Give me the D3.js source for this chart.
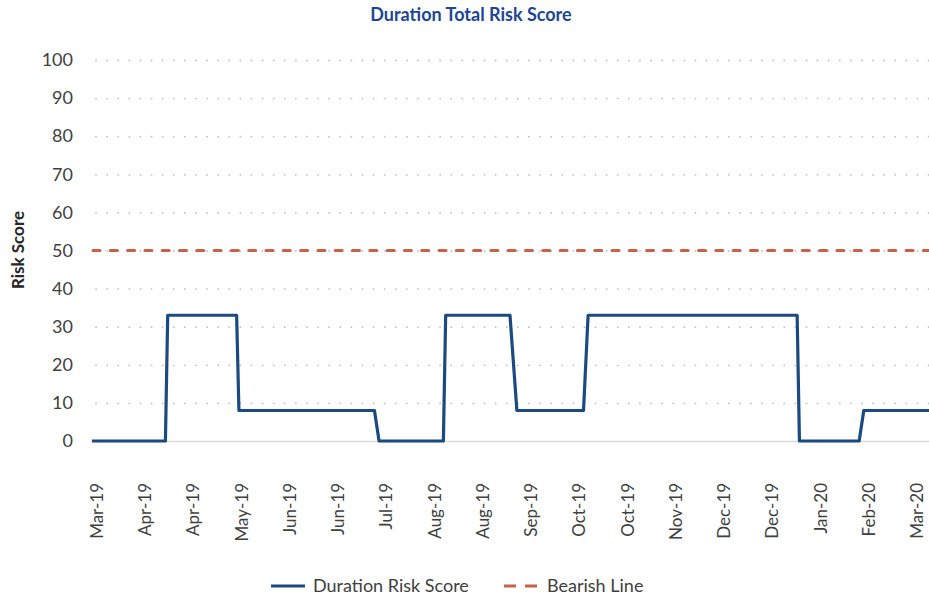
<!DOCTYPE html>
<html>
<head>
<meta charset="utf-8">
<script src="https://cdn.jsdelivr.net/npm/d3@7"></script>
<style>
  body { margin: 0; background: #fff; }
  svg { display: block; font-family: Lato, "Open Sans", sans-serif; }
</style>
</head>
<body>
<svg id="chart" width="929" height="599"></svg>
<script>
// data
const pointDates = ["2019-03-09", "2019-04-10", "2019-04-11", "2019-05-11", "2019-05-12",
  "2019-07-10", "2019-07-12", "2019-08-09", "2019-08-10", "2019-09-07", "2019-09-10",
  "2019-10-09", "2019-10-11", "2020-01-10", "2020-01-11", "2020-02-06", "2020-02-08", "2020-03-08"];
const riskScores = [0, 0, 33, 33, 8, 8, 0, 0, 33, 33, 8, 8, 33, 33, 0, 0, 8, 8];
const bearishLevel = 50;

const tickDates = ["2019-03-11", "2019-04-01", "2019-04-22", "2019-05-13", "2019-06-03", "2019-06-24",
  "2019-07-15", "2019-08-05", "2019-08-26", "2019-09-16", "2019-10-07", "2019-10-28",
  "2019-11-18", "2019-12-09", "2019-12-30", "2020-01-20", "2020-02-10", "2020-03-02"];
const tickLabels = ["Mar-19", "Apr-19", "Apr-19", "May-19", "Jun-19", "Jun-19", "Jul-19", "Aug-19",
  "Aug-19", "Sep-19", "Oct-19", "Oct-19", "Nov-19", "Dec-19", "Dec-19", "Jan-20", "Feb-20", "Mar-20"];
const yTicks = [0, 10, 20, 30, 40, 50, 60, 70, 80, 90, 100];

const parse = d3.utcParse("%Y-%m-%d");
const series = pointDates.map((d, i) => ({ date: parse(d), value: riskScores[i] }));
const ticks = tickDates.map(parse);

const svg = d3.select("#chart");
const plotLeft = 93, plotRight = 929;

const x = d3.scaleUtc()
  .domain([ticks[0], ticks[ticks.length - 1]])
  .range([96.5, 916.6]);
const y = d3.scaleLinear().domain([0, 100]).range([441, 60]);

// title
svg.append("text")
  .attr("x", 471).attr("y", 21)
  .attr("text-anchor", "middle")
  .style("font-size", "18px").style("font-weight", "bold")
  .style("fill", "#1d4694")
  .text("Duration Total Risk Score");

// dotted gridlines
const grid = svg.append("g")
  .attr("transform", `translate(${plotLeft},0)`)
  .call(d3.axisLeft(y).tickValues(yTicks.filter(v => v > 0)).tickSize(-(plotRight - plotLeft)).tickFormat(""));
grid.select(".domain").remove();
grid.selectAll("line")
  .attr("stroke", "#c4c4c4")
  .attr("stroke-width", 1.8)
  .attr("stroke-linecap", "round")
  .attr("stroke-dasharray", "0.1,11")
  .attr("transform", "translate(3,0)");

// y axis labels
const yAxis = svg.append("g")
  .attr("transform", "translate(73,0)")
  .call(d3.axisLeft(y).tickValues(yTicks).tickSize(0).tickPadding(0));
yAxis.select(".domain").remove();
yAxis.selectAll("text")
  .style("font-size", "18px").style("font-family", "Lato, sans-serif")
  .style("fill", "#404040");

// baseline
svg.append("line")
  .attr("x1", plotLeft - 1).attr("x2", plotRight)
  .attr("y1", y(0) + 0.5).attr("y2", y(0) + 0.5)
  .attr("stroke", "#d9d9d9").attr("stroke-width", 1.5);

// x axis labels
const xAxis = svg.append("g")
  .attr("transform", "translate(0,483)")
  .call(d3.axisBottom(x).tickValues(ticks).tickSize(0).tickFormat((d, i) => tickLabels[i]));
xAxis.select(".domain").remove();
xAxis.selectAll("text")
  .attr("transform", "rotate(-90)")
  .attr("x", 0).attr("y", 0).attr("dy", "0.35em")
  .style("text-anchor", "end")
  .style("font-size", "17px").style("font-family", "Lato, sans-serif")
  .style("fill", "#404040");

// y axis title
svg.append("text")
  .attr("transform", "translate(18,250) rotate(-90)")
  .attr("text-anchor", "middle").attr("dy", "0.35em")
  .style("font-size", "17px").style("font-weight", "bold")
  .style("fill", "#262626")
  .text("Risk Score");

// bearish line
svg.append("line")
  .attr("x1", plotLeft).attr("x2", plotRight)
  .attr("y1", y(bearishLevel)).attr("y2", y(bearishLevel))
  .attr("stroke", "#c9604a").attr("stroke-width", 3)
  .attr("stroke-linecap", "round")
  .attr("stroke-dasharray", "7,10.3");

// risk score line
const line = d3.line().x(d => x(d.date)).y(d => y(d.value));
svg.append("path")
  .datum(series)
  .attr("d", line)
  .attr("fill", "none")
  .attr("stroke", "#1b4a80")
  .attr("stroke-width", 3.2)
  .attr("stroke-linejoin", "round");

// legend
const legend = svg.append("g").attr("transform", "translate(0,586)");
legend.append("line")
  .attr("x1", 271).attr("x2", 305).attr("y1", 0).attr("y2", 0)
  .attr("stroke", "#1b4a80").attr("stroke-width", 3);
legend.append("text")
  .attr("x", 313).attr("y", 0).attr("dy", "0.35em")
  .style("font-size", "18px").style("fill", "#404040")
  .text("Duration Risk Score");
legend.append("line")
  .attr("x1", 504).attr("x2", 537).attr("y1", 0).attr("y2", 0)
  .attr("stroke", "#c9604a").attr("stroke-width", 3)
  .attr("stroke-dasharray", "12,9");
legend.append("text")
  .attr("x", 547).attr("y", 0).attr("dy", "0.35em")
  .style("font-size", "18px").style("fill", "#404040")
  .text("Bearish Line");
</script>
</body>
</html>
